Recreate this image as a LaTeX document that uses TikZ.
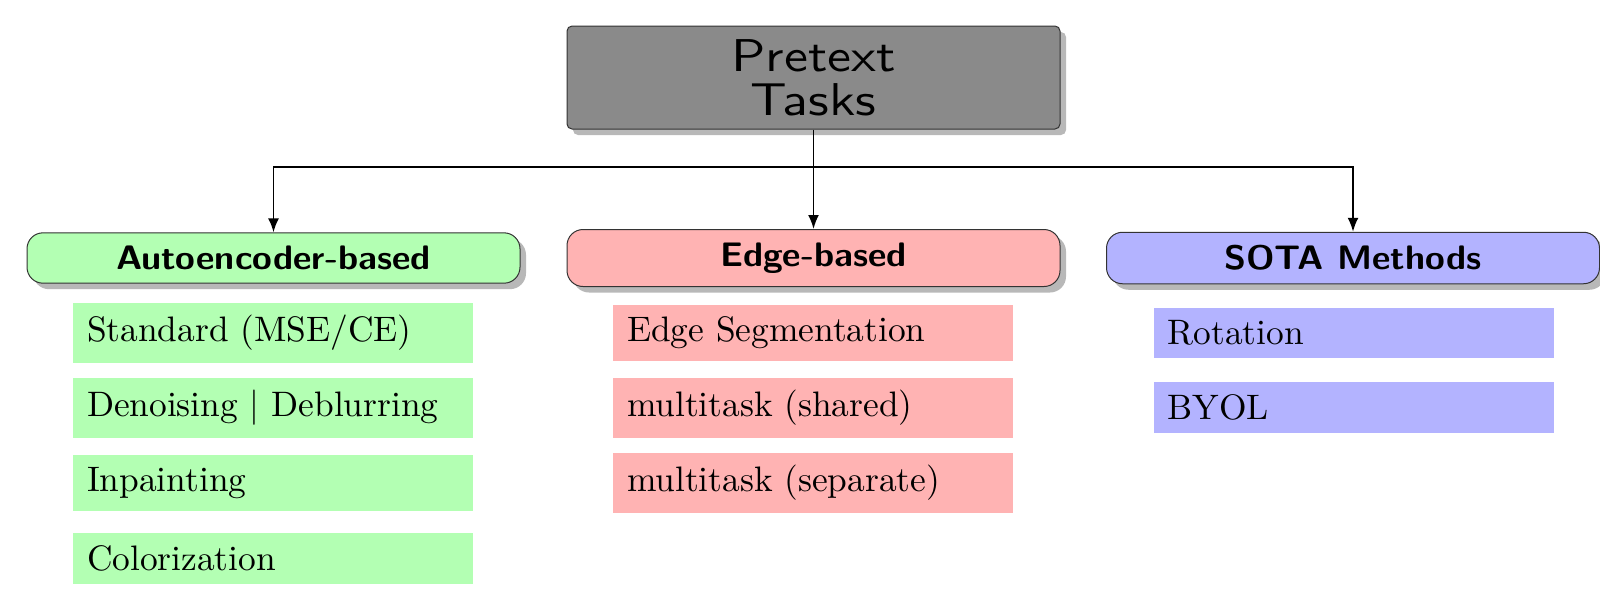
\documentclass[tikz,border=0pt]{standalone}
\usepackage{fontspec}
\newfontfamily\itemfont{lmroman10-regular.otf}
\newfontfamily\rootfont{lmsans10-regular.otf}
\usetikzlibrary{shadows,arrows.meta}

\definecolor{rootfill}{RGB}{138,138,138}
\definecolor{aefill}{RGB}{179,255,179}
\definecolor{edgefill}{RGB}{255,179,179}
\definecolor{sotafill}{RGB}{179,179,255}

% wide lettering used in the boxes
\newcommand{\widetext}[2]{\scalebox{#1}[1]{#2}}

\tikzset{
  x=0.5pt, y=-0.5pt,
  boxshadow/.style={drop shadow={shadow xshift=3pt, shadow yshift=-3pt,
      fill=black, opacity=0.28}},
  rootbox/.style={draw=black!80, line width=0.5pt, fill=rootfill,
      rounded corners=2.5pt, boxshadow, align=center,
      minimum width=246.5pt, minimum height=51.5pt, inner sep=0pt,
      font=\rootfont\fontsize{23}{22}\selectfont},
  catbox/.style={draw=black!80, line width=0.5pt, rounded corners=8pt,
      boxshadow, minimum width=246.5pt, inner xsep=4pt, inner ysep=6.6pt,
      font=\sffamily\bfseries\fontsize{17}{20}\selectfont},
  itembox/.style={inner xsep=7pt, inner ysep=6.1pt, text width=186pt,
      align=left, font=\itemfont\fontsize{17.7}{21}\selectfont},
  link/.style={line width=0.9pt},
  arrowlink/.style={link, -{Latex[length=7pt,width=5.5pt]}}
}

\begin{document}
\begin{tikzpicture}
  \useasboundingbox (0,0) rectangle (1600,596);

  % top of the hierarchy
  \node[rootbox] (root) at (813.5,77.5)
    {\widetext{1.17}{Pretext}\\\widetext{1.17}{Tasks}};

  % the three families of tasks
  \node[catbox, fill=aefill]   (ae)   at (273.5,258) {\widetext{1.055}{Autoencoder-based}};
  \node[catbox, fill=edgefill] (edge) at (813.5,258) {\widetext{1.055}{Edge-based}};
  \node[catbox, fill=sotafill] (sota) at (1353,258)  {\widetext{1.055}{SOTA Methods}};

  % branching connectors
  \coordinate (split) at (813.5,167);
  \draw[link] (root.south) -- (split);
  \draw[arrowlink] (split) -| (ae.north);
  \draw[arrowlink] (split) -- (edge.north);
  \draw[arrowlink] (split) -| (sota.north);

  % autoencoder-based tasks
  \node[itembox, fill=aefill] (ae1) at (273,333)   {Standard (MSE/CE)};
  \node[itembox, fill=aefill] (ae2) at (273,408)   {Denoising | Deblurring};
  \node[itembox, fill=aefill] (ae3) at (273,483)   {Inpainting};
  \node[itembox, fill=aefill] (ae4) at (273,558.5) {Colorization};

  % edge-based tasks
  \node[itembox, fill=edgefill] (ed1) at (813,333) {Edge Segmentation};
  \node[itembox, fill=edgefill] (ed2) at (813,408) {multitask (shared)};
  \node[itembox, fill=edgefill] (ed3) at (813,483) {multitask (separate)};

  % state-of-the-art methods
  \node[itembox, fill=sotafill] (so1) at (1353.5,333)   {Rotation};
  \node[itembox, fill=sotafill] (so2) at (1353.5,407.5) {BYOL};
\end{tikzpicture}
\end{document}
